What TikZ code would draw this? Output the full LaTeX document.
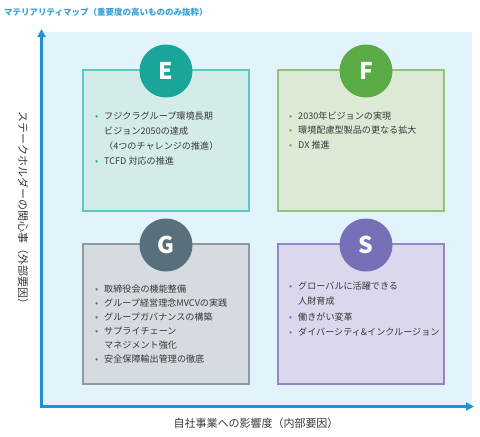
\documentclass[tikz,border=0pt]{standalone}
\usepackage{fontspec}
\setmainfont{Noto Sans CJK JP}
\usetikzlibrary{arrows.meta}
\definecolor{bgblue}{HTML}{E3F3FC}
\definecolor{axisblue}{HTML}{1B93D6}
\definecolor{titleblue}{HTML}{3A9FD9}
\definecolor{txt}{HTML}{383838}
\definecolor{eC}{HTML}{1AA59A}\definecolor{eF}{HTML}{D3ECEA}\definecolor{eB}{HTML}{5CC9C0}
\definecolor{fC}{HTML}{5AAA45}\definecolor{fF}{HTML}{DCE9D5}\definecolor{fB}{HTML}{8FC47F}
\definecolor{gC}{HTML}{58707C}\definecolor{gF}{HTML}{D5DBE0}\definecolor{gB}{HTML}{8E9AA3}
\definecolor{sC}{HTML}{7570B8}\definecolor{sF}{HTML}{DBD8EE}\definecolor{sB}{HTML}{8E88C4}
\newcommand{\bl}[1]{\makebox[9pt][l]{\textcolor{#1}{•}}}
\newcommand{\ind}{\makebox[9pt][l]{}}
\tikzset{
  quad/.style={draw=#1B, fill=#1F, line width=1.1pt},
  badge/.style={circle, fill=#1C, minimum size=53pt, inner sep=0pt, text=white,
                font=\fontsize{23}{23}\selectfont\bfseries},
  items/.style={anchor=north west, inner sep=0pt, align=left, text=txt,
                font=\fontsize{9.1}{#1}\selectfont},
  axislabel/.style={text=txt, inner sep=0pt, font=\fontsize{11}{11}\selectfont},
}
\begin{document}
\begin{tikzpicture}[x=1pt,y=-1pt]
\useasboundingbox (0,0) rectangle (480,437);
\node[anchor=west, inner sep=0pt, text=titleblue, font=\fontsize{8.5}{8.5}\selectfont\bfseries] (title) at (4,12)
  {マテリアリティマップ（重要度の高いもののみ抜粋）};
\fill[bgblue] (42,32) rectangle (472,406);
\coordinate (ytop) at (41.5,29);
\coordinate (orig) at (41.5,406.5);
\coordinate (xend) at (474,406.5);
\draw[axisblue, line width=2.6pt, {Triangle[length=8pt,width=8pt]}-{Triangle[length=8pt,width=8pt]}]
  (ytop) -- (orig) -- (xend);
\node[axislabel, rotate=-90] (ylab) at (23,210) {ステークホルダーの関心事（外部要因）};
\node[axislabel] (xlab) at (256,423) {自社事業への影響度（内部要因）};
% boxes
\draw[quad=e] (83,70) rectangle (249,211);
\draw[quad=f] (278,70) rectangle (444,211);
\draw[quad=g] (83,244) rectangle (249,384);
\draw[quad=s] (278,244) rectangle (444,384);
\node[badge=e] (E) at (166,71) {E};
\node[badge=f] (F) at (366,71) {F};
\node[badge=g] (G) at (166,245) {G};
\node[badge=s] (S) at (366,245) {S};
\node[items=15] (Et) at (95,111.5) {\bl{eC}フジクラグループ環境長期\\\ind ビジョン2050の達成\\\ind（4つのチャレンジの推進）\\\bl{eC}TCFD 対応の推進};
\node[items=14.5] (Ft) at (289,111.5) {\bl{fC}2030年ビジョンの実現\\\bl{fC}環境配慮型製品の更なる拡大\\\bl{fC}DX 推進};
\node[items=14] (Gt) at (95,284.5) {\bl{gC}取締役会の機能整備\\\bl{gC}グループ経営理念MVCVの実践\\\bl{gC}グループガバナンスの構築\\\bl{gC}サプライチェーン\\\ind マネジメント強化\\\bl{gC}安全保障輸出管理の徹底};
\node[items=15.5] (St) at (289,281.5) {\bl{sC}グローバルに活躍できる\\\ind 人財育成\\\bl{sC}働きがい変革\\\bl{sC}ダイバーシティ\&インクルージョン};
\end{tikzpicture}
\end{document}
